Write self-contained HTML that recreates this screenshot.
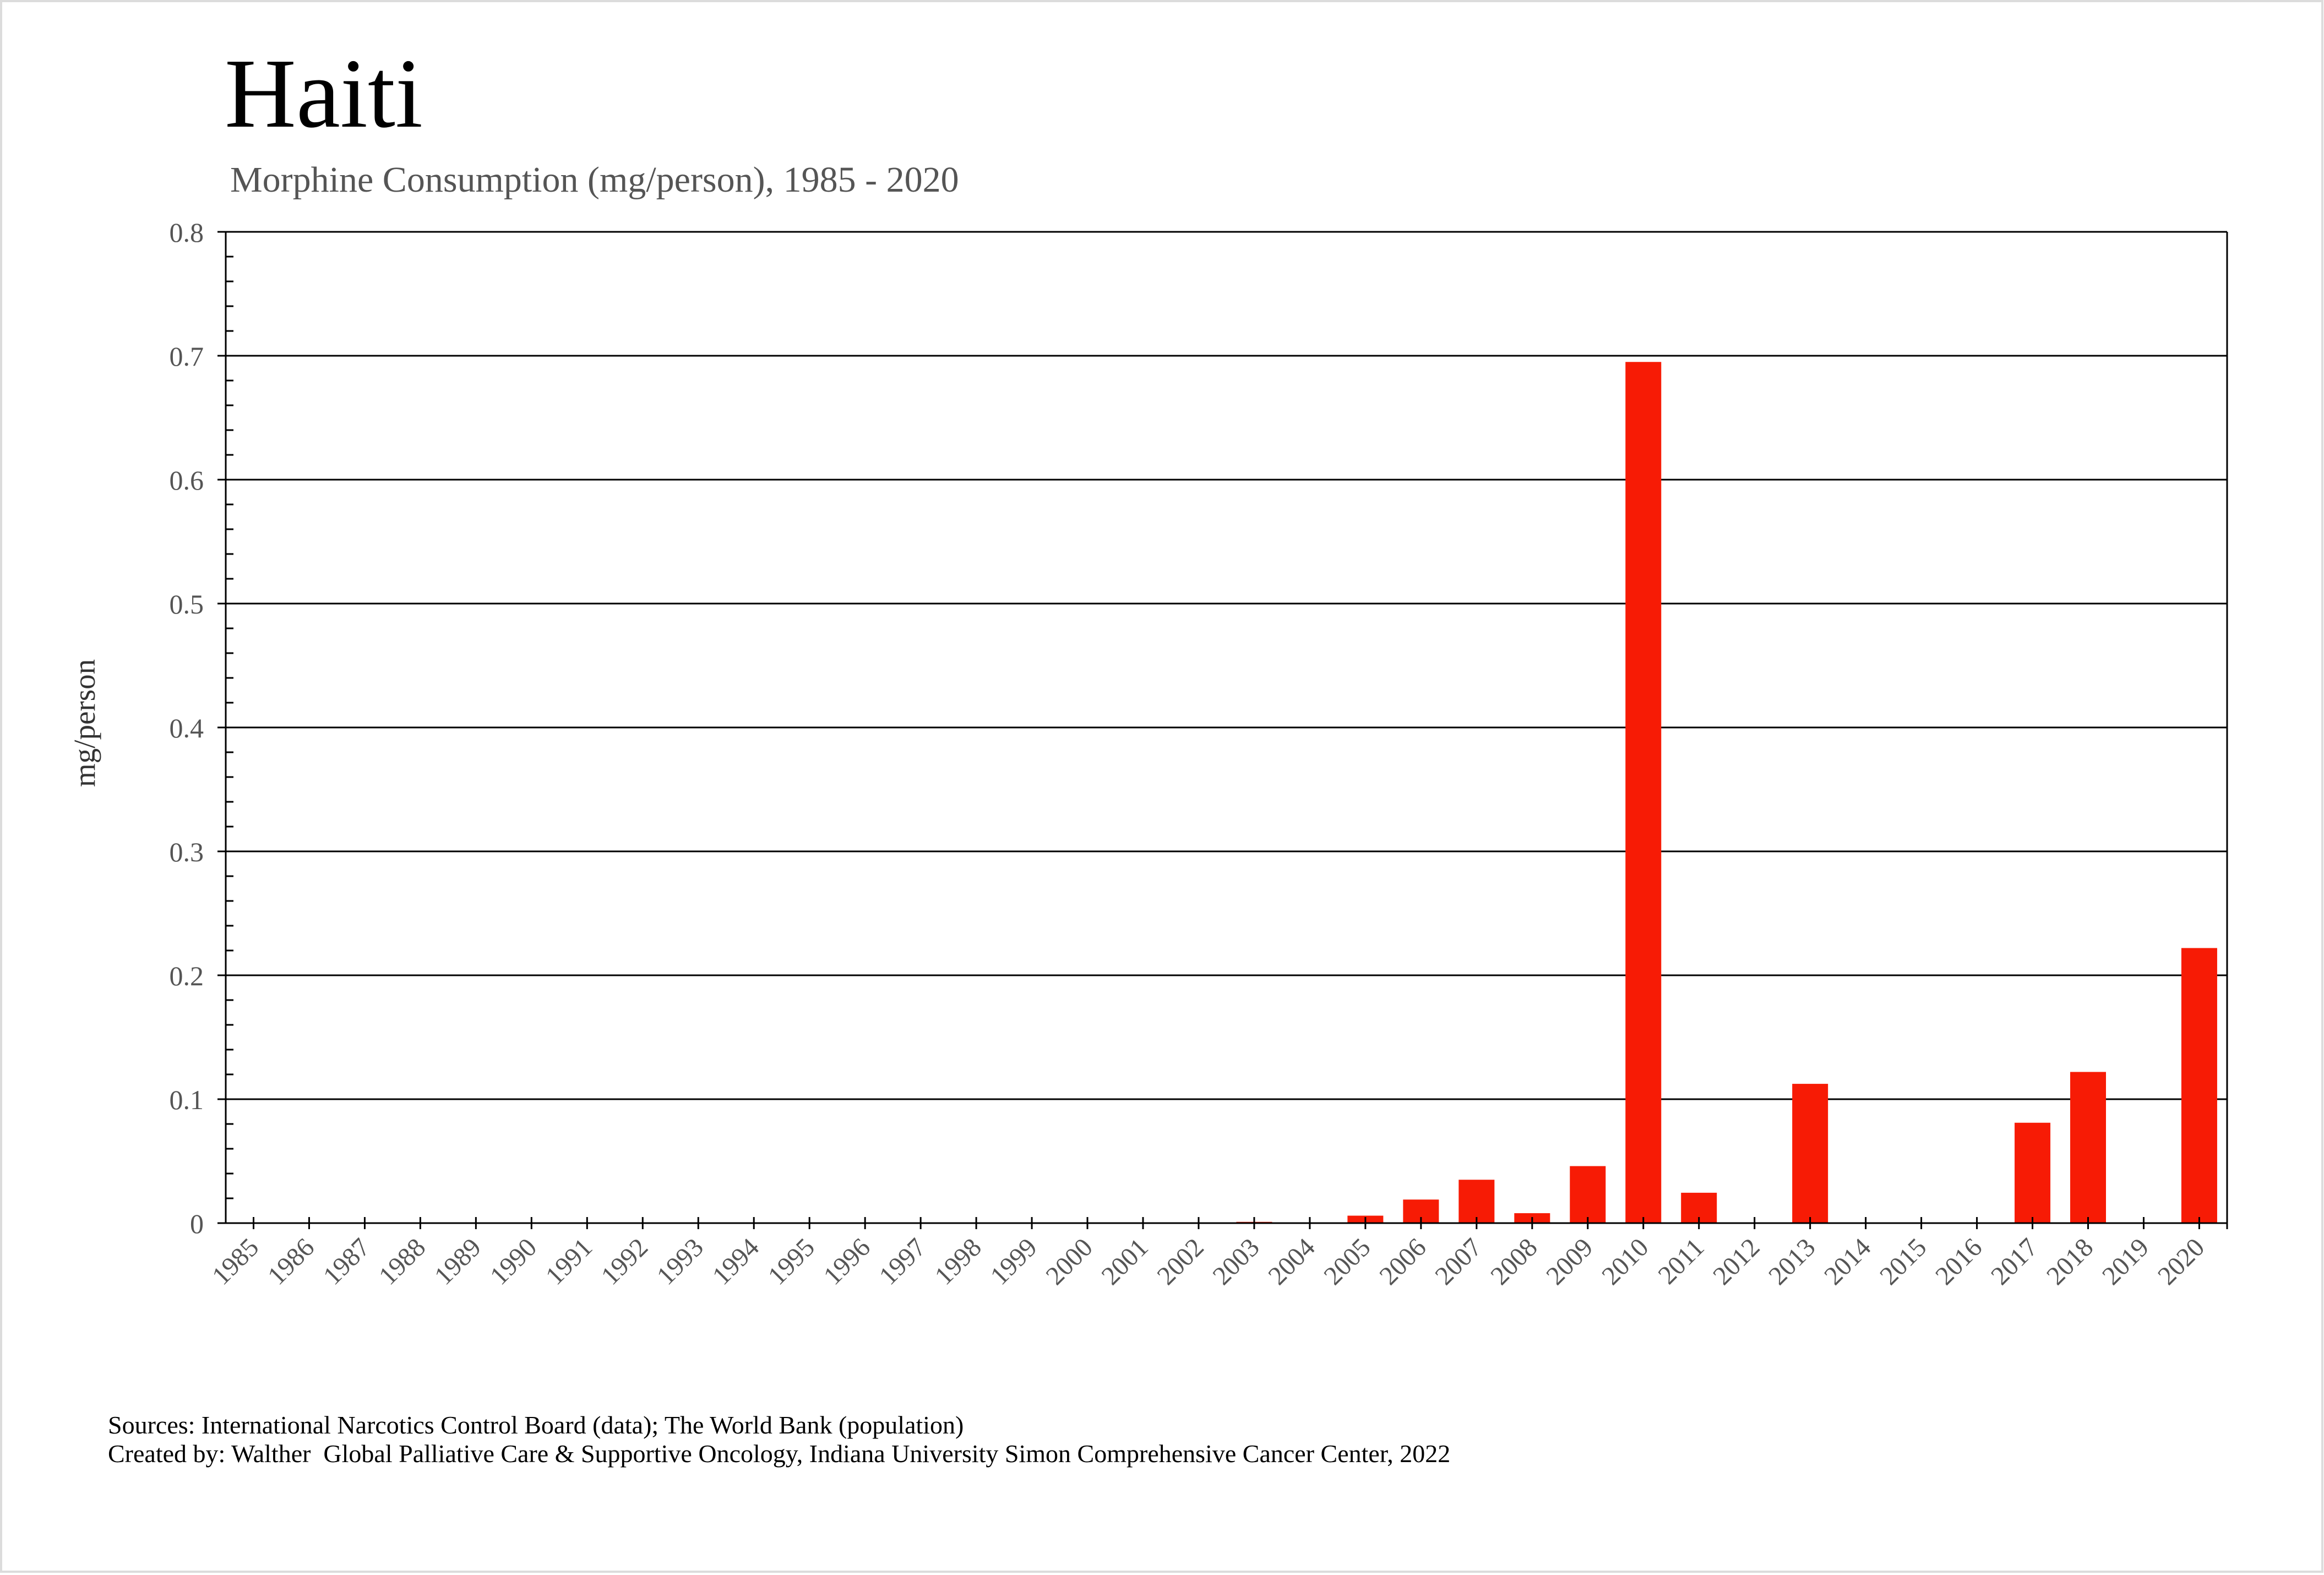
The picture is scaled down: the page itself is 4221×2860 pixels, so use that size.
<!DOCTYPE html>
<html><head><meta charset="utf-8"><style>
html,body{margin:0;padding:0;background:#fff}
svg{display:block}
text{font-family:"Liberation Serif",serif}
</style></head><body>
<svg width="4221" height="2860" viewBox="0 0 4221 2860" xmlns="http://www.w3.org/2000/svg">
<rect x="2" y="2" width="4216" height="2852" fill="#fff" stroke="#dcdcdc" stroke-width="4"/>
<text x="408" y="230" font-size="180" fill="#000">Haiti</text>
<text x="418" y="348" font-size="66" fill="#555">Morphine Consumption (mg/person), 1985 - 2020</text>
<text transform="translate(172,1313) rotate(-90)" text-anchor="middle" font-size="55" fill="#333">mg/person</text>
<g stroke="#000" stroke-width="3">
<line x1="395" y1="421" x2="4045" y2="421"/>
<line x1="395" y1="646" x2="4045" y2="646"/>
<line x1="395" y1="871" x2="4045" y2="871"/>
<line x1="395" y1="1096" x2="4045" y2="1096"/>
<line x1="395" y1="1321" x2="4045" y2="1321"/>
<line x1="395" y1="1546" x2="4045" y2="1546"/>
<line x1="395" y1="1771" x2="4045" y2="1771"/>
<line x1="395" y1="1996" x2="4045" y2="1996"/>
</g>
<g fill="#f71b05" id="bars"></g>
<g stroke="#000" stroke-width="3">
<line x1="410" y1="421" x2="410" y2="2221"/>
<line x1="4045" y1="421" x2="4045" y2="2232"/>
<line x1="395" y1="2221" x2="4045" y2="2221"/>
</g>
<g stroke="#000" stroke-width="3" id="minor"></g>
<g stroke="#000" stroke-width="3" id="xt"></g>
<g font-size="50" fill="#555" text-anchor="end">
<text x="370" y="439">0.8</text><text x="370" y="664">0.7</text><text x="370" y="889">0.6</text><text x="370" y="1114">0.5</text><text x="370" y="1339">0.4</text><text x="370" y="1564">0.3</text><text x="370" y="1789">0.2</text><text x="370" y="2014">0.1</text><text x="370" y="2239">0</text>
</g>
<g font-size="48" fill="#555" text-anchor="end" id="xl"></g>
<text x="196" y="2603" font-size="46" fill="#000">Sources: International Narcotics Control Board (data); The World Bank (population)</text>
<text x="196" y="2655" font-size="46" fill="#000" xml:space="preserve">Created by: Walther  Global Palliative Care &amp; Supportive Oncology, Indiana University Simon Comprehensive Cancer Center, 2022</text>
<script>
var ns="http://www.w3.org/2000/svg";
var m=document.getElementById("minor");
for(var i=0;i<40;i++){if(i%5==0)continue;var y=2221-i*45;var l=document.createElementNS(ns,"line");l.setAttribute("x1",410);l.setAttribute("x2",424);l.setAttribute("y1",y);l.setAttribute("y2",y);m.appendChild(l);}
var xt=document.getElementById("xt"),xl=document.getElementById("xl"),bars=document.getElementById("bars");
var vals={2003:0.001,2005:0.006,2006:0.019,2007:0.035,2008:0.008,2009:0.046,2010:0.695,2011:0.0245,2013:0.1124,2017:0.081,2018:0.122,2020:0.222};
for(var k=0;k<36;k++){var x=460.5+k*100.97;var yr=1985+k;
if(vals[yr]){var h=vals[yr]*2250;var r=document.createElementNS(ns,"rect");r.setAttribute("x",x-32.5);r.setAttribute("width",65);r.setAttribute("y",2221-h);r.setAttribute("height",h);bars.appendChild(r);}
var l=document.createElementNS(ns,"line");l.setAttribute("x1",x);l.setAttribute("x2",x);l.setAttribute("y1",2210);l.setAttribute("y2",2232);xt.appendChild(l);
var t=document.createElementNS(ns,"text");t.setAttribute("transform","translate("+(x+12)+",2268) rotate(-45)");t.textContent=yr;xl.appendChild(t);}
</script>
</svg>
</body></html>
